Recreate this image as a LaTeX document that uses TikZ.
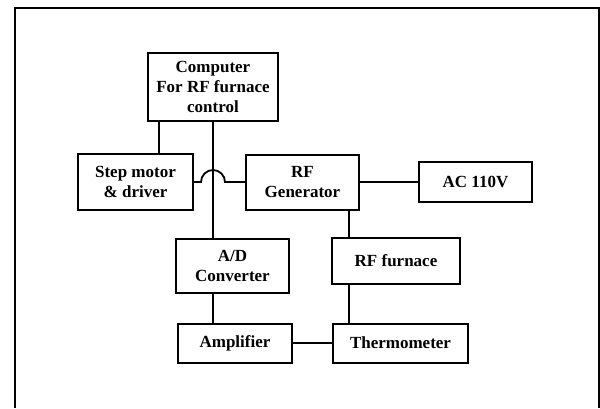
\documentclass[tikz,border=0pt]{standalone}
\usepackage{fontspec}
\setmainfont{Liberation Serif}
\usetikzlibrary{positioning}

\begin{document}
\begin{tikzpicture}[
    x=1pt, y=-1pt,
    block/.style={rectangle, draw, line width=2pt, align=center, inner sep=2pt},
    wire/.style={line width=1.8pt},
    every node/.style={font=\fontsize{17}{20}\selectfont\bfseries}
]
\useasboundingbox (0,0) rectangle (600,408);

% Frame
\draw[line width=2pt] (15,408) -- (15,8) -- (599,8) -- (599,408);

% Top box
\node[block, minimum width=130pt, minimum height=68pt] (comp) at (213, 87)
    {Computer\\For RF furnace\\control};

% Middle row
\node[block, minimum width=115pt, minimum height=56pt] (step) at (135.5, 182)
    {Step motor\\\& driver};
\node[block, minimum width=113pt, minimum height=55pt] (rfgen) at (302.5, 182)
    {RF\\Generator};
\node[block, minimum width=113pt, minimum height=40pt] (ac) at (475.5, 182)
    {AC 110V};

% Lower rows
\node[block, minimum width=113pt, minimum height=54pt] (ad) at (232.5, 266)
    {A/D\\Converter};
\node[block, minimum width=128pt, minimum height=46pt] (furnace) at (396, 261)
    {RF furnace};
\node[block, minimum width=114pt, minimum height=39pt] (amp) at (235, 343)
    {Amplifier};
\node[block, minimum width=135pt, minimum height=39pt] (therm) at (400.5, 343)
    {Thermometer};

% Connecting lines
\coordinate (tap) at ([xshift=-11pt]rfgen.south east);
\draw[wire] ([xshift=12pt]comp.south west) -- ([xshift=12pt]comp.south west |- step.north);
\draw[wire] (comp.south) -- (comp.south |- ad.north);
\draw[wire] (step.east) -- ([xshift=-12pt]comp.south |- step.east) arc (180:360:12)
    -- (rfgen.west);
\draw[wire] (rfgen.east) -- (ac.west);
\draw[wire] (tap) -- (tap |- furnace.north);
\draw[wire] (tap |- furnace.south) -- (tap |- therm.north);
\draw[wire] (comp.south |- ad.south) -- (comp.south |- amp.north);
\draw[wire] (amp.east) -- (therm.west);

\end{tikzpicture}
\end{document}
